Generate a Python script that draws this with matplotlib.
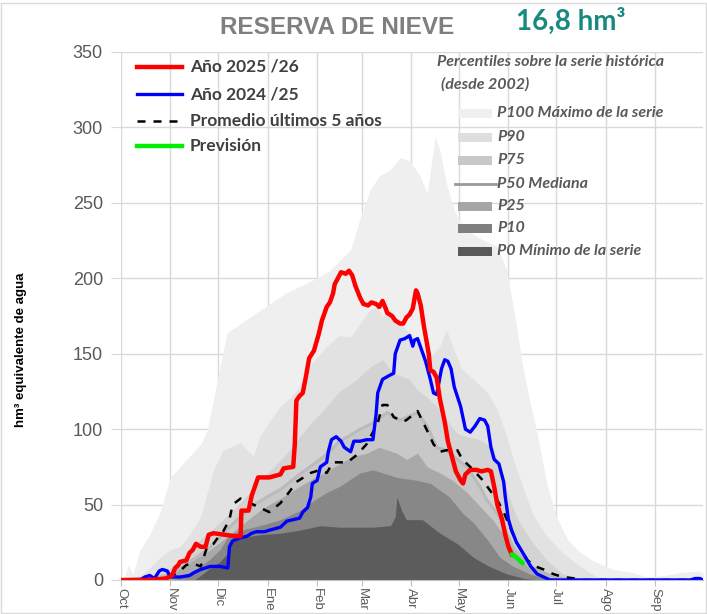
import matplotlib
matplotlib.use("Agg")
import matplotlib.pyplot as plt
from matplotlib.lines import Line2D
from matplotlib.patches import Rectangle

# ---------------- DATA ----------------
month_days = [0, 31, 61, 92, 123, 151, 182, 212, 243, 273, 304, 335]
month_labels = ["Oct", "Nov", "Dic", "Ene", "Feb", "Mar", "Abr", "May", "Jun", "Jul", "Ago", "Sep"]
y_ticks = [0, 50, 100, 150, 200, 250, 300, 350]

# Año 2025/26
red_days = [0, 18, 28, 32, 34, 36, 37, 41, 43, 45, 47, 50, 53, 55, 58, 65, 72, 75, 75.5, 80, 82, 86, 93, 100,
            102, 108, 109, 110, 112, 114, 116, 118, 121, 124, 126, 129, 131, 133, 134, 136, 138, 141, 143, 145,
            147, 150, 152, 155, 157, 160, 162, 164, 166, 167, 170, 172, 175, 177, 179, 181, 183, 185, 186, 188,
            190, 193, 194, 196, 198, 200, 203, 205, 208, 210, 213, 214.5, 216, 219, 223, 226, 230, 232, 234,
            236, 239, 241, 243, 245]
red_vals = [0, 0, 1, 3, 8, 10, 12, 13, 18, 20, 24, 22, 22, 30, 31, 30, 29, 29, 46, 46, 56, 68, 68, 70,
            74, 75, 90, 119, 122, 124, 135, 147, 152, 163, 172, 181, 184, 190, 196, 200, 204, 203, 205, 202,
            195, 187, 183, 182, 184, 183, 181, 185, 180, 177, 175, 172, 170, 170, 174, 176, 180, 192, 190, 182,
            168, 150, 139, 138, 134, 120, 105, 92, 80, 72, 66, 64, 70, 73, 73, 72, 73, 72, 62,
            50, 40, 30, 22, 17]

# Año 2024/25
blue_days = [0, 12, 15, 18, 21, 24, 26, 29, 31, 37, 43, 46, 50, 53, 56, 62, 67, 68, 70, 75, 79, 82, 85, 90,
             93, 100, 104, 108, 112, 114, 117, 119, 120, 123, 125, 129, 130, 132, 135, 138, 140, 144, 146, 150,
             154, 158, 160, 161, 164, 169, 171, 172, 175, 178, 181, 183, 184, 186, 188, 191, 194, 196, 198, 201,
             203, 205, 207, 209, 213, 216, 219, 222, 225, 228, 230, 232, 234, 237, 240, 241, 243, 245, 248, 252,
             257, 261, 265, 269, 357, 360, 363, 365]
blue_vals = [0, 0, 2, 3, 1, 6, 7, 6, 2, 2, 3, 5, 7, 8, 9, 9, 8, 22, 26, 28, 29, 31, 32, 32,
             33, 35, 39, 40, 41, 45, 48, 55, 64, 66, 75, 78, 85, 93, 95, 92, 88, 85, 92, 92,
             93, 93, 110, 124, 133, 136, 137, 150, 159, 160, 162, 155, 159, 160, 154, 145, 133, 124, 123, 140,
             146, 145, 140, 128, 115, 100, 98, 102, 107, 106, 102, 88, 80, 77, 65, 55, 40, 33, 25, 18,
             9, 4, 2, 0, 0, 1, 1, 0]

# Promedio últimos 5 años
avg_days = [0, 25, 31, 37, 41, 45, 50, 54, 58, 60, 64, 68, 70, 75, 81, 87, 93, 100, 106, 110, 119, 125, 129,
            133, 142, 148, 154, 161, 164, 167, 171, 177, 179, 186, 192, 196, 200, 204, 211, 214, 219, 227, 231,
            236, 240, 244, 248, 255, 260, 265, 271, 277, 285, 290, 365]
avg_vals = [0, 0, 2, 6, 10, 11, 9, 22, 24, 27, 32, 40, 50, 54, 51, 48, 45, 51, 59, 65, 71, 73, 71,
            78, 78, 83, 90, 104, 116, 116, 108, 105, 106, 112, 99, 90, 85, 86, 86, 80, 75, 66, 60,
            53, 45, 35, 25, 13, 9, 7, 4, 2, 1, 0, 0]

# Previsión
fc_days = [245, 248, 252]
fc_vals = [17, 15, 11]

# Percentiles (serie histórica desde 2002)
p100_days = [0, 2.5, 4.4, 7.5, 12, 18, 24.5, 31, 37, 43, 50, 54, 60, 66.5, 75, 89, 103, 117, 131, 144, 150,
             156, 162, 169, 175, 181, 187.5, 192, 197, 200, 204, 209, 213, 219, 228, 236, 242, 247, 252, 256.5,
             261, 267, 273, 280, 286, 294, 300, 308.5, 321, 330, 341, 350.5, 361, 365]
p100_vals = [0, 3, 10, 4, 20, 30, 45, 68, 75, 82, 90, 99, 130, 164, 170, 180, 190, 197, 205, 219, 240,
             258, 268, 272, 280, 278, 268, 256, 294, 285, 263, 245, 237, 230, 225, 221, 205, 175, 141, 118,
             97, 64, 42, 27, 20, 14, 11, 7, 5, 2, 3, 5, 6, 5]

p90_days = [0, 12, 18, 24.5, 31, 37, 43, 50, 58, 64, 75, 79, 83, 87, 95, 100, 106, 112, 120, 129, 137, 144,
            150, 156, 160.5, 164, 169, 175, 181, 187.5, 194, 200, 204, 208, 213, 221, 230, 236, 242, 246, 252,
            258, 267, 277, 288, 298.5, 307, 365]
p90_vals = [0, 3, 8, 15, 20, 22, 30, 42, 73, 86, 91, 86, 82, 95, 108, 115, 121, 128, 144, 155, 162, 161,
            170, 179, 181, 175, 179, 170, 164, 157, 148, 155, 166, 155, 141, 133, 124, 113, 95, 80, 62,
            44, 29, 18, 9, 2, 0, 0]

p75_days = [0, 18, 24.5, 31, 37, 45, 54, 62, 70, 79, 87, 95, 104, 112, 120, 129, 137, 148, 156, 164, 171,
            181, 186, 192, 198, 204, 211, 217, 225, 233, 240, 246, 250, 258, 267, 277, 288, 294, 365]
p75_vals = [0, 2, 5, 8, 13, 22, 31, 38, 46, 56, 66, 74, 84, 95, 105, 115, 125, 133, 141, 146, 137,
            133, 126, 121, 115, 106, 97, 95, 93, 88, 66, 47, 38, 25, 13, 4, 1, 0, 0]

p50_days = [0, 24.5, 31, 37, 43, 50, 56, 62, 68, 75, 81, 87, 93, 100, 106, 112, 118.5, 125, 131, 137, 144,
            150, 158, 167, 175, 186, 192, 198, 204, 211, 217, 225, 229.5, 236, 242, 246, 252, 258, 267, 277,
            285, 365]
p50_vals = [0, 2, 4, 8, 12, 17, 22, 28, 35, 42, 48, 52, 56, 60, 65, 70, 75, 80, 85, 92, 96,
            100, 104, 111, 106, 111, 102, 88, 86, 80, 75, 62, 53, 44, 31, 22, 13, 7, 3, 1,
            0, 0]

p25_days = [0, 18, 24.5, 31, 37, 43, 50, 56, 62, 68, 75, 81, 87, 93, 100, 106, 112, 120, 129, 137, 145.5,
            154, 162, 173, 179, 186, 192, 200, 208, 217, 225, 233, 242, 250, 256.5, 267, 277, 285, 365]
p25_vals = [0, 1, 3, 5, 8, 12, 16, 20, 25, 30, 36, 41, 46, 50, 54, 58, 62, 67, 72, 77, 82,
            84, 88, 84, 80, 84, 75, 71, 66, 58, 49, 40, 27, 18, 10, 5, 1, 0, 0]

p10_days = [0, 31, 37, 43, 50, 56, 62, 68, 75, 87, 100, 112, 120, 129, 137, 150, 158, 164, 173, 186, 194,
            206, 214.5, 221, 229.5, 237.7, 246, 256.5, 269, 365]
p10_vals = [0, 0, 2, 5, 9, 14, 20, 30, 33, 36, 40, 46, 52, 58, 62, 71, 73, 71, 68, 66, 64,
            55, 44, 38, 27, 15, 9, 4, 0, 0]

p0_days = [0, 46, 50, 56, 62, 67, 70, 75, 87, 100, 112, 125, 137, 158, 169, 172, 173, 176, 179, 189, 200,
           211, 221, 231, 242, 253, 263, 365]
p0_vals = [0, 0, 3, 8, 12, 18, 27, 28, 30, 31, 33, 36, 35, 35, 36, 42, 55, 46, 40, 40, 31,
           24, 15, 9, 4, 1, 0, 0]

# ---------------- STYLE ----------------
W, H = 707, 614
fig = plt.figure(figsize=(W / 100, H / 100), dpi=100)
ax = fig.add_axes([121 / W, 1 - 580 / H, (703 - 121) / W, (580 - 52) / H])

narrow = ["Liberation Sans", "DejaVu Sans"]
sans = ["Lato", "DejaVu Sans"]
ital = ["Lato", "DejaVu Sans"]
grid_c = "#d9d9d9"

bands = [
    (p100_days, p100_vals, "#efefef"),
    (p90_days, p90_vals, "#e2e2e2"),
    (p75_days, p75_vals, "#d3d3d3"),
    (p50_days, p50_vals, "#c8c8c8"),
    (p25_days, p25_vals, "#a9a9a9"),
    (p10_days, p10_vals, "#878787"),
    (p0_days, p0_vals, "#5c5c5c"),
]
for i, (d, v, c) in enumerate(bands):
    ax.fill_between(d, 0, v, color=c, lw=0, zorder=2 + i * 0.1)
ax.plot(p50_days, p50_vals, color="#bababa", lw=2.2, zorder=3)

ax.plot(avg_days, avg_vals, color="black", lw=1.8, ls=(0, (3.2, 3.2)), zorder=4)
ax.plot(blue_days, blue_vals, color="#0000ff", lw=2.4, zorder=5, solid_joinstyle="round")
ax.plot(red_days, red_vals, color="#ff0000", lw=3.2, zorder=6, solid_joinstyle="round")
ax.plot(fc_days, fc_vals, color="#00ee00", lw=3.2, zorder=7, solid_capstyle="round")

ax.set_xlim(0, 365)
ax.set_ylim(0, 350)
ax.set_xticks(month_days)
ax.set_xticklabels(month_labels, rotation=-90, fontsize=9.5, color="#595959", family=narrow)
ax.set_yticks(y_ticks)
ax.set_yticklabels([str(t) for t in y_ticks], fontsize=13, color="#595959", family=narrow)
ax.tick_params(axis="x", length=4, color="#bfbfbf", pad=2)
ax.tick_params(axis="y", length=7, color=grid_c, pad=6)
ax.grid(True, color=grid_c, lw=1, zorder=0)
ax.set_axisbelow(True)
for s in ["top", "right", "left"]:
    ax.spines[s].set_visible(False)
ax.spines["bottom"].set_color("#bfbfbf")
ax.spines["bottom"].set_zorder(8)

ax.set_ylabel("hm³ equivalente de agua", fontsize=9.5, fontweight="bold", family=narrow)
ax.yaxis.set_label_coords((27 - 121) / 582, (580 - 350) / 528)

def fx(x):
    return x / W

def fy(y):
    return 1 - y / H

# Titles
fig.text(fx(337), fy(27), "RESERVA DE NIEVE", ha="center", va="center", fontsize=17.5,
         fontweight="bold", color="#7f7f7f", family=narrow)
fig.text(fx(516), fy(21), "16,8 hm³", ha="left", va="center", fontsize=20,
         fontweight="bold", color="#168a80", family=sans)

# Left legend
leg_items = [("Año 2025 /26", "#ff0000", "-", 3.2),
             ("Año 2024 /25", "#0000ff", "-", 2.4),
             ("Promedio últimos 5 años", "black", (0, (3.2, 3.2)), 1.8),
             ("Previsión", "#00ee00", "-", 3.2)]
for (lab, c, ls, lw), y in zip(leg_items, [67, 94, 121, 146]):
    fig.add_artist(Line2D([fx(137), fx(182)], [fy(y), fy(y)], color=c, ls=ls, lw=lw,
                          transform=fig.transFigure))
    fig.text(fx(190), fy(y), lab, ha="left", va="center", fontsize=12.5, fontweight="bold",
             color="#404040", family=sans)

# Right legend
fig.text(fx(437), fy(62), "Percentiles sobre la serie histórica", ha="left", va="center",
         fontsize=11.5, fontweight="bold", style="italic", color="#595959", family=ital)
fig.text(fx(441), fy(84), "(desde 2002)", ha="left", va="center",
         fontsize=11.5, fontweight="bold", style="italic", color="#595959", family=ital)
p_items = [("P100 Máximo de la serie", "#efefef", "patch"),
           ("P90", "#dedede", "patch"),
           ("P75", "#c8c8c8", "patch"),
           ("P50 Mediana", "#9a9a9a", "line"),
           ("P25", "#a6a6a6", "patch"),
           ("P10", "#7f7f7f", "patch"),
           ("P0 Mínimo de la serie", "#595959", "patch")]
for (lab, c, kind), y in zip(p_items, [113, 137, 160, 184, 206, 228, 251]):
    if kind == "patch":
        fig.add_artist(Rectangle((fx(458), fy(y + 4.5)), fx(34), 9 / H, color=c, lw=0,
                                 transform=fig.transFigure, zorder=10))
    else:
        fig.add_artist(Line2D([fx(455), fx(496)], [fy(y), fy(y)], color=c, lw=2,
                              transform=fig.transFigure, zorder=10))
    fig.text(fx(497), fy(y), lab, ha="left", va="center", fontsize=11.5, fontweight="bold",
             style="italic", color="#595959", family=ital, zorder=11)

fig.add_artist(Rectangle((0.002, 0.002), 0.996, 0.993, fill=False, edgecolor="#d9d9d9", lw=1,
                         transform=fig.transFigure))

fig.savefig("out.png", dpi=100)
